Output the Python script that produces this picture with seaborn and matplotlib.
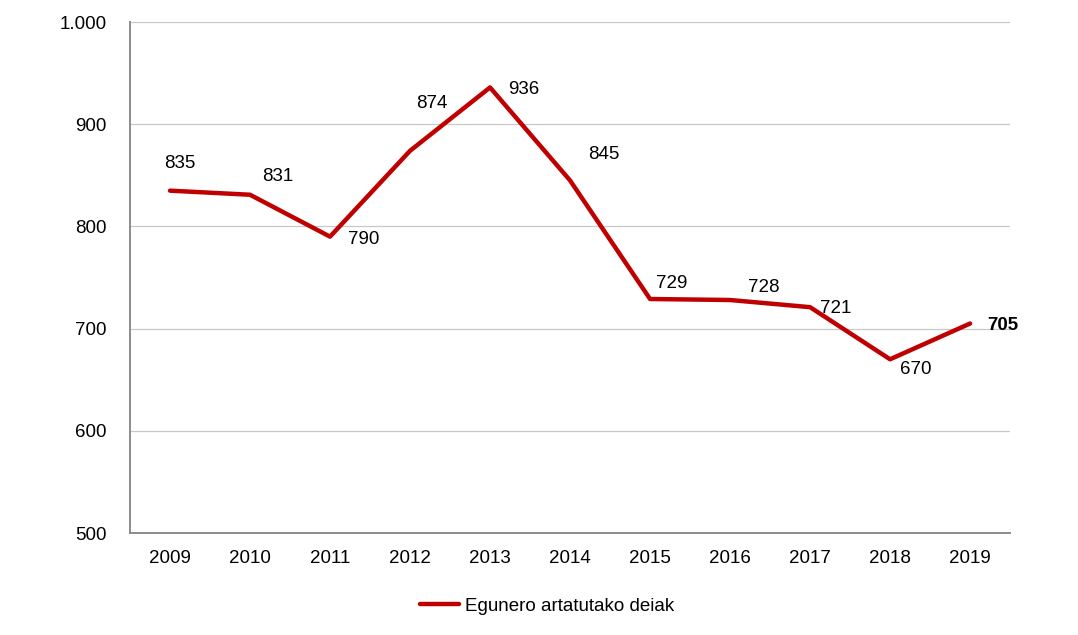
import pandas as pd
import seaborn as sns
import matplotlib.pyplot as plt
import numpy as np
from matplotlib.ticker import FixedLocator, FuncFormatter

years = ["2009", "2010", "2011", "2012", "2013", "2014", "2015", "2016", "2017", "2018", "2019"]
calls = [835, 831, 790, 874, 936, 845, 729, 728, 721, 670, 705]
series_name = "Egunero artatutako deiak"

# label offsets in pixels (dx, dy up) like the excel labels
offsets = [(10, 27), (28, 18), (34, -3), (22, 47), (34, -2), (34, 26),
           (22, 15), (34, 13), (26, -1), (26, -10), (33, -2)]

sns.set_style("white")
plt.rcParams['font.family'] = ['Liberation Sans', 'DejaVu Sans']
plt.rcParams['text.color'] = 'black'
plt.rcParams['xtick.color'] = 'black'
plt.rcParams['ytick.color'] = 'black'

fs = 13.5

df = pd.DataFrame({"year": years, "calls": calls, "serie": series_name})

fig = plt.figure(figsize=(10.78, 6.35), dpi=100)
ax = fig.add_axes([0.1206, 0.1606, 0.8164, 0.8047])

sns.lineplot(data=df, x="year", y="calls", hue="serie", palette=["#C00000"],
             linewidth=3.2, ax=ax, sort=False)

ax.set_xlim(-0.5, len(years) - 0.5)
ax.set_ylim(500, 1000)
ax.set_yticks(np.arange(500, 1001, 100))
ax.yaxis.set_major_formatter(FuncFormatter(lambda v, p: f"{int(v):,}".replace(",", ".")))
ax.grid(axis="y", color="#C8C8C8", linewidth=0.9)
ax.set_axisbelow(True)

ax.set_xticks(range(len(years)))
ax.set_xticklabels(years)
ax.xaxis.set_minor_locator(FixedLocator(np.arange(-0.5, len(years), 1)))
ax.tick_params(axis="x", which="major", length=0, pad=12, labelsize=fs)
ax.tick_params(axis="x", which="minor", length=5, width=1.2, color="#8C8C8C", direction="out")
ax.tick_params(axis="y", length=5, width=1.2, color="#8C8C8C", direction="out", pad=12, labelsize=fs)

for s in ["top", "right"]:
    ax.spines[s].set_visible(False)
for s in ["left", "bottom"]:
    ax.spines[s].set_color("#8C8C8C")
    ax.spines[s].set_linewidth(1.4)

ax.set_xlabel("")
ax.set_ylabel("")

for i, v in enumerate(calls):
    dx, dy = offsets[i]
    ax.annotate(str(v), (i, v), xytext=(dx * 0.72, dy * 0.72), textcoords="offset points",
                ha="center", va="center", fontsize=fs,
                fontweight="bold" if i == len(calls) - 1 else "normal")

leg = ax.legend(loc="center", bbox_to_anchor=(0.474, -0.143), frameon=False,
                fontsize=fs, handlelength=2.1, handletextpad=0.3)

fig.savefig("out.png", dpi=100)
